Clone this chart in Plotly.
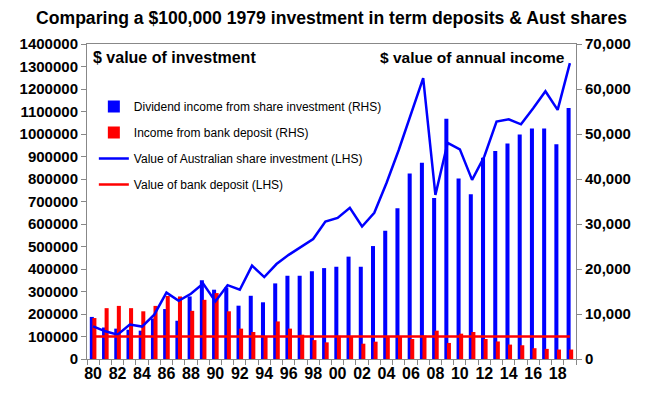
import plotly.graph_objects as go

years = list(range(1980, 2020))

share_income = [9350, 7000, 6750, 6500, 6300, 9000, 11100, 8500, 13900, 17500,
                15400, 15900, 11850, 14050, 12600, 16800, 18500, 18500, 19500, 20200,
                20500, 22750, 20500, 25100, 28500, 33500, 41200, 43600, 35800, 53400,
                40100, 36600, 44700, 46200, 47900, 49900, 51200, 51200, 47700, 55800]

bank_income = [9100, 11300, 11800, 11300, 10600, 11800, 14000, 13900, 10700, 13150,
               14650, 10600, 6750, 6000, 4900, 8350, 6750, 5400, 4200, 3700,
               5150, 5000, 3400, 3850, 5000, 5000, 4450, 5200, 6300, 3570,
               5630, 6000, 4450, 3900, 3200, 3050, 2400, 2250, 2100, 2100]

share_value = [145000, 123000, 108000, 153000, 144000, 197000, 295000, 259000, 290000, 335000,
               256000, 328000, 308000, 415000, 364000, 422000, 463000, 500000, 533000, 611000,
               627000, 672000, 589000, 650000, 782000, 929000, 1090000, 1248000, 729000, 961000,
               932000, 796000, 900000, 1055000, 1065000, 1043000, 1114000, 1190000, 1107000, 1315000]

bank_value = [100000] * 40

tick_years = list(range(1980, 2020, 2))
tick_labels = [f"{y % 100:02d}" for y in tick_years]

names = ["Dividend income from share investment (RHS)",
         "Income from bank deposit (RHS)",
         "Value of Australian share investment (LHS)",
         "Value of bank deposit (LHS)"]

BLUE = "#0000FF"
RED = "#FF0000"
FONT = "Liberation Sans, Arial, sans-serif"
AXC = "#888888"

fig = go.Figure()
fig.add_trace(go.Bar(x=years, y=share_income, name=names[0], marker_color=BLUE,
                     marker_line_width=0, width=0.33, offset=-0.27,
                     yaxis="y", legendgroup="a"))
fig.add_trace(go.Bar(x=years, y=bank_income, name=names[1], marker_color=RED,
                     marker_line_width=0, width=0.33, offset=-0.06,
                     yaxis="y", legendgroup="b"))
fig.add_trace(go.Scatter(x=years, y=share_value, name=names[2], mode="lines",
                         line=dict(color=BLUE, width=2.5), yaxis="y2", legendgroup="c"))
fig.add_trace(go.Scatter(x=years, y=bank_value, name=names[3], mode="lines",
                         line=dict(color=RED, width=2.5), yaxis="y2", legendgroup="d"))

# page body has an 8px default margin, so the figure is 8px smaller and offset
fig.update_layout(
    width=638, height=387,
    margin=dict(l=74, r=70, t=36, b=36),
    paper_bgcolor="white", plot_bgcolor="white",
    font=dict(family=FONT, color="black"),
    barmode="overlay",
    showlegend=True,
    title=dict(text="Comparing a $100,000 1979 investment in term deposits & Aust shares",
               x=0.5, xref="paper", xanchor="center", y=0.974, yanchor="middle",
               font=dict(size=17.6, weight="bold", family=FONT, color="black")),
    legend=dict(x=0.014, y=0.848, xanchor="left", yanchor="top",
                bgcolor="rgba(0,0,0,0)", borderwidth=0,
                font=dict(size=12, family=FONT, color="black"),
                traceorder="grouped", tracegroupgap=7),
    xaxis=dict(range=[1979.5, 2019.5], tickvals=tick_years, ticktext=tick_labels,
               ticks="", showgrid=False, zeroline=False,
               showline=True, linecolor=AXC, linewidth=1, mirror=True,
               tickfont=dict(size=16, weight="bold", family=FONT, color="black"),
               minor=dict(tick0=1979.5, dtick=1, ticks="outside", ticklen=5,
                          tickcolor=AXC, showgrid=False)),
    yaxis=dict(side="right", range=[0, 70000], dtick=10000, tickformat=",d",
               showgrid=False, zeroline=False, showline=True, linecolor=AXC,
               ticks="outside", ticklen=5, tickcolor=AXC,
               tickfont=dict(size=15, weight="bold", family=FONT, color="black")),
    yaxis2=dict(side="left", overlaying="y", range=[0, 1400000], dtick=100000,
                tickformat="d", showgrid=False, zeroline=False, showline=True,
                linecolor=AXC, ticks="outside", ticklen=5, tickcolor=AXC,
                tickfont=dict(size=15, weight="bold", family=FONT, color="black")),
    annotations=[
        dict(text="$ value of investment", xref="paper", yref="paper",
             x=0.008, y=0.956, xanchor="left", yanchor="middle", showarrow=False,
             font=dict(size=16, weight="bold", family=FONT, color="black")),
        dict(text="$ value of annual income", xref="paper", yref="paper",
             x=0.982, y=0.956, xanchor="right", yanchor="middle", showarrow=False,
             font=dict(size=15.5, weight="bold", family=FONT, color="black")),
    ],
)

fig.write_html("out.html")
